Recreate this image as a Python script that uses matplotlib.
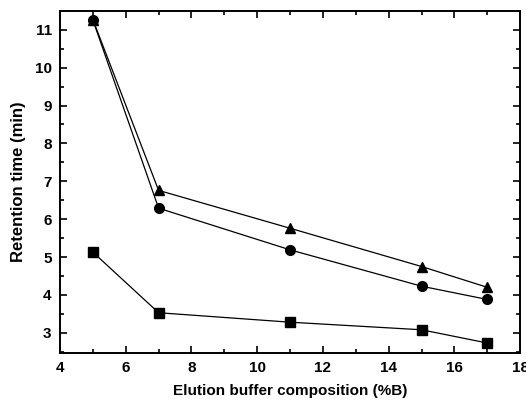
import numpy as np
import matplotlib
matplotlib.use("Agg")
import matplotlib.pyplot as plt
from matplotlib.ticker import MultipleLocator

# composition de la phase mobile (%B)
x = np.array([5, 7, 11, 15, 17])
y_carre = np.array([5.13, 3.53, 3.28, 3.08, 2.73])
y_rond = np.array([11.26, 6.29, 5.19, 4.23, 3.88])
y_triangle = np.array([11.27, 6.76, 5.76, 4.75, 4.2])

plt.rcParams['font.family'] = ['Liberation Sans', 'DejaVu Sans']
plt.rcParams['font.weight'] = 'bold'

fig = plt.figure(figsize=(5.26, 4.01), dpi=100)
ax = fig.add_axes([0.114, 0.12, 0.875, 0.853])

ax.plot(x, y_carre, 'k-', marker='s', ms=6.5, lw=0.9)
ax.plot(x, y_rond, 'k-', marker='o', ms=7, lw=0.9)
ax.plot(x, y_triangle, 'k-', marker='^', ms=7.5, lw=0.9)

ax.set_xlim(4, 18)
ax.set_ylim(2.47, 11.5)
ax.xaxis.set_major_locator(MultipleLocator(2))
ax.xaxis.set_minor_locator(MultipleLocator(1))
ax.yaxis.set_major_locator(MultipleLocator(1))
ax.yaxis.set_minor_locator(MultipleLocator(0.5))
ax.tick_params(which='both', direction='in', top=True, right=True, width=1.2)
ax.tick_params(which='major', length=5, labelsize=11, pad=6)
ax.tick_params(which='minor', length=3)
for s in ax.spines.values():
    s.set_linewidth(1.4)

ax.set_xlabel('Elution buffer composition (%B)', fontsize=11, fontweight='bold', labelpad=6)
ax.set_ylabel('Retention time (min)', fontsize=12, fontweight='bold', labelpad=6)

fig.savefig('out.png', dpi=100)
